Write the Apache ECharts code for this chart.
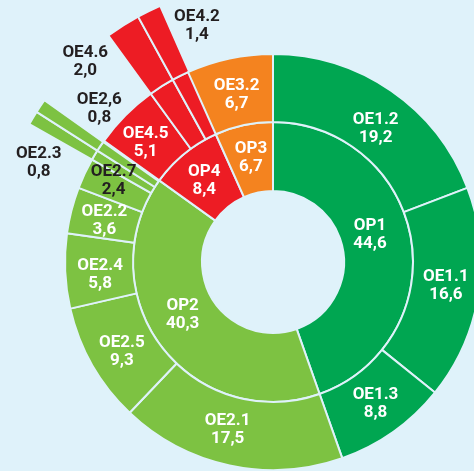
<!DOCTYPE html>
<html><head><meta charset="utf-8">
<script src="https://cdn.jsdelivr.net/npm/echarts@6/dist/echarts.min.js"></script>
<style>html,body{margin:0;padding:0;background:#dff2fa;} #c{width:474px;height:471px;}</style>
</head><body><div id="c"></div>
<script>
// ---- data ----
const opNames = ['OP1', 'OP2', 'OP4', 'OP3'];
const opValues = [44.6, 40.3, 8.4, 6.7];
const oeNames = [
  ['OE1.2', 'OE1.1', 'OE1.3'],
  ['OE2.1', 'OE2.5', 'OE2.4', 'OE2.2', 'OE2.7', 'OE2.3', 'OE2,6'],
  ['OE4.5', 'OE4.6', 'OE4.2'],
  ['OE3.2']
];
const oeValues = [
  [19.2, 16.6, 8.8],
  [17.5, 9.3, 5.8, 3.6, 2.4, 0.8, 0.8],
  [5.1, 2.0, 1.4],
  [6.7]
];
const extendedItems = ['OE4.2', 'OE4.6', 'OE2,6', 'OE2.3'];
const darkLabelItems = ['OE2.7'];

// ---- styles / layout ----
const opColors = ['#00a651', '#7dc242', '#ed1c24', '#f4831f'];
const bg = '#dff2fa';
const darkText = '#231f20';
const labelShift = {
  'OP1': [-7, -9], 'OP2': [-6, -11], 'OP4': [-2, 0], 'OP3': [0, -1],
  'OE1.2': [4, 10], 'OE1.1': [1, -3], 'OE1.3': [2, 0],
  'OE2.1': [-9, -2], 'OE2.5': [0, 4], 'OE2.4': [1, 5], 'OE2.2': [0, 2], 'OE2.7': [-2, -7],
  'OE4.5': [-4, 3], 'OE3.2': [0, 3],
  'OE4.2': [32, -17], 'OE4.6': [-57, 6], 'OE2,6': [29, -17], 'OE2.3': [-25, 26]
};

const fmt = v => v.toFixed(1).replace('.', ',');

const data = opNames.map((op, i) => ({
  name: op,
  value: opValues[i],
  itemStyle: { color: opColors[i] },
  children: oeNames[i].map((oe, j) => {
    const v = oeValues[i][j];
    const node = { name: oe, value: v, itemStyle: { color: opColors[i] } };
    if (extendedItems.includes(oe)) {
      node.label = { show: false };
      node.children = [{
        name: oe, value: v, itemStyle: { color: opColors[i] },
        label: { color: darkText }
      }];
    } else if (darkLabelItems.includes(oe)) {
      node.label = { color: darkText };
    }
    return node;
  })
}));

const chart = echarts.init(document.getElementById('c'), null, { renderer: 'canvas' });
chart.setOption({
  backgroundColor: bg,
  animation: false,
  series: [{
    type: 'sunburst',
    center: [273, 262],
    radius: [71, 280],
    sort: null,
    nodeClick: false,
    startAngle: 90,
    clockwise: true,
    data: data,
    emphasis: { disabled: true },
    itemStyle: { borderColor: bg, borderWidth: 2 },
    label: {
      rotate: 0,
      color: '#ffffff',
      fontFamily: 'Roboto',
      fontWeight: 'bold',
      fontSize: 17,
      lineHeight: 18,
      formatter: p => p.name + '\n' + fmt(p.value)
    },
    levels: [
      {},
      { r0: 71, r: 140 },
      { r0: 140, r: 208 },
      { r0: 208, r: 280 }
    ],
    labelLayout: function (params) {
      const name = (params.text || '').split('\n')[0];
      const s = labelShift[name] || [0, 0];
      return { dx: s[0], dy: s[1] };
    }
  }]
});
</script>
</body></html>
